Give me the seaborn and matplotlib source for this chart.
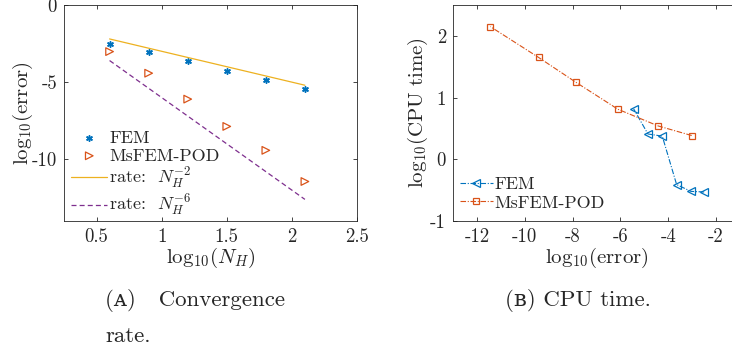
import numpy as np
import pandas as pd
import matplotlib
matplotlib.use('Agg')
import matplotlib.pyplot as plt
import seaborn as sns

# data (log10 values)
log_nh = [0.6, 0.9, 1.2, 1.5, 1.8, 2.1]
err_fem = [-2.5, -3.05, -3.65, -4.25, -4.85, -5.45]
err_pod = [-3.02, -4.42, -6.1, -7.87, -9.42, -11.44]
rate_x = [0.6, 2.1]
rate2_y = [-2.2, -5.2]
rate6_y = [-3.6, -12.6]

# cpu time, same order as the error lists
cpu_fem = [-0.53, -0.52, -0.41, 0.375, 0.41, 0.82]
cpu_pod = [0.385, 0.54, 0.81, 1.25, 1.65, 2.15]

left_xticks = [0.5, 1, 1.5, 2, 2.5]
left_yticks = [-10, -5, 0]
right_xticks = [-12, -10, -8, -6, -4, -2]
right_yticks = [-1, 0, 1, 2]

BLUE = '#0072BD'
ORANGE = '#D95319'
YELLOW = '#EDB120'
PURPLE = '#7E2F8E'
AX = '#262626'
DASHDOT = (0, (5, 1.5, 1, 1.5))

sns.set_style('ticks')
plt.rcParams['font.family'] = ['cmr10', 'DejaVu Serif']
plt.rcParams['mathtext.fontset'] = 'cm'
plt.rcParams['axes.unicode_minus'] = False
plt.rcParams['axes.edgecolor'] = AX
plt.rcParams['axes.linewidth'] = 0.6
plt.rcParams['text.color'] = AX
plt.rcParams['axes.labelcolor'] = AX
plt.rcParams['xtick.color'] = AX
plt.rcParams['ytick.color'] = AX

fig = plt.figure(figsize=(7.32, 3.54), dpi=100)
ax1 = fig.add_axes([64 / 732, 1 - 221 / 354, 293 / 732, 216 / 354])
ax2 = fig.add_axes([453 / 732, 1 - 221 / 354, 287 / 732, 216 / 354])

df_l = pd.DataFrame({'x': log_nh, 'fem': err_fem, 'pod': err_pod})
sns.scatterplot(data=df_l, x='x', y='fem', ax=ax1, marker=(6, 2, 0), s=16,
                color=BLUE, edgecolor=BLUE, linewidth=1.1, label='FEM')
sns.scatterplot(data=df_l, x='x', y='pod', ax=ax1, marker='>', s=30,
                facecolor='none', edgecolor=ORANGE, linewidth=0.9, label='MsFEM-POD')
sns.lineplot(x=rate_x, y=rate2_y, ax=ax1, color=YELLOW, lw=0.9,
             label=r'rate:  $N_H^{-2}$')
sns.lineplot(x=rate_x, y=rate6_y, ax=ax1, color=PURPLE, lw=0.9,
             label=r'rate:  $N_H^{-6}$')
ax1.lines[-1].set_linestyle((0, (4, 2.5)))

ax1.set_xlim(0.25, 2.5)
ax1.set_ylim(-14, 0)
ax1.set_xticks(left_xticks, [f'{t:g}' for t in left_xticks])
ax1.set_yticks(left_yticks, [f'{t:g}' for t in left_yticks])
ax1.set_xlabel(r'$\mathrm{log}_{10}(N_H)$', fontsize=15, labelpad=0)
ax1.set_ylabel(r'$\mathrm{log}_{10}(\mathrm{error})$', fontsize=15, labelpad=-2)
leg1 = ax1.legend(loc='lower left', frameon=False, fontsize=13,
                  handlelength=2.0, handletextpad=0.1, labelspacing=0.12,
                  borderaxespad=0.0, bbox_to_anchor=(0.0, -0.02))
leg1.legend_handles[3].set_linestyle((0, (4, 2.5)))

sns.lineplot(x=err_fem, y=cpu_fem, ax=ax2, sort=False, color=BLUE, lw=0.8,
             marker='<', markersize=6, markerfacecolor='none',
             markeredgecolor=BLUE, markeredgewidth=0.9, label='FEM')
sns.lineplot(x=err_pod, y=cpu_pod, ax=ax2, sort=False, color=ORANGE, lw=0.8,
             marker='s', markersize=4.5, markerfacecolor='none',
             markeredgecolor=ORANGE, markeredgewidth=0.9, label='MsFEM-POD')
for ln in ax2.lines:
    ln.set_linestyle(DASHDOT)

ax2.set_xlim(-13, -1)
ax2.set_ylim(-1, 2.5)
ax2.set_xticks(right_xticks, [f'{t:g}' for t in right_xticks])
ax2.set_yticks(right_yticks, [f'{t:g}' for t in right_yticks])
ax2.set_xlabel(r'$\mathrm{log}_{10}(\mathrm{error})$', fontsize=15, labelpad=0)
ax2.set_ylabel(r'$\mathrm{log}_{10}(\mathrm{CPU\ time})$', fontsize=15, labelpad=0)
leg2 = ax2.legend(loc='lower left', frameon=False, fontsize=13,
                  handlelength=1.8, handletextpad=0.1, labelspacing=0.15,
                  borderaxespad=0.0, bbox_to_anchor=(0.0, 0.015))
for h in leg2.legend_handles:
    h.set_linestyle(DASHDOT)

for ax in (ax1, ax2):
    sns.despine(ax=ax, top=False, right=False)
    ax.tick_params(direction='in', length=3, width=0.6, labelsize=13.5,
                   top=True, right=True, pad=5)

fig.text(105 / 732, 1 - 300 / 354, '(ᴀ)   Convergence', fontsize=16.5, va='center')
fig.text(105 / 732, 1 - 336 / 354, 'rate.', fontsize=16.5, va='center')
fig.text(505 / 732, 1 - 300 / 354, '(ʙ) CPU time.', fontsize=16.5, va='center')

fig.savefig('out.png', dpi=100)
